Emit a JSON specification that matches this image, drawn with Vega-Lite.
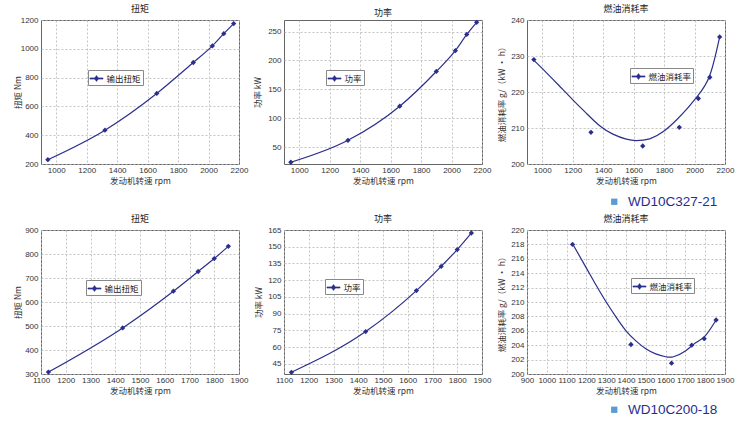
{
  "$schema": "https://vega.github.io/schema/vega-lite/v6.json",
  "padding": {"left": 12, "top": 4, "right": 5, "bottom": 5},
  "background": "white",
  "datasets": {
    "torque1": [
      {"rpm": 945, "value": 230, "series": "输出扭矩"},
      {"rpm": 1320, "value": 435, "series": "输出扭矩"},
      {"rpm": 1660, "value": 690, "series": "输出扭矩"},
      {"rpm": 1900, "value": 905, "series": "输出扭矩"},
      {"rpm": 2025, "value": 1020, "series": "输出扭矩"},
      {"rpm": 2100, "value": 1105, "series": "输出扭矩"},
      {"rpm": 2165, "value": 1175, "series": "输出扭矩"}
    ],
    "power1": [
      {"rpm": 945, "value": 24, "series": "功率"},
      {"rpm": 1320, "value": 62, "series": "功率"},
      {"rpm": 1660, "value": 121, "series": "功率"},
      {"rpm": 1900, "value": 181, "series": "功率"},
      {"rpm": 2025, "value": 217, "series": "功率"},
      {"rpm": 2100, "value": 245, "series": "功率"},
      {"rpm": 2165, "value": 266, "series": "功率"}
    ],
    "fuel1": [
      {"rpm": 945, "value": 229.0, "series": "燃油消耗率"},
      {"rpm": 1320, "value": 208.8, "series": "燃油消耗率"},
      {"rpm": 1660, "value": 205.0, "series": "燃油消耗率"},
      {"rpm": 1900, "value": 210.2, "series": "燃油消耗率"},
      {"rpm": 2025, "value": 218.2, "series": "燃油消耗率"},
      {"rpm": 2100, "value": 224.1, "series": "燃油消耗率"},
      {"rpm": 2165, "value": 235.3, "series": "燃油消耗率"}
    ],
    "fuel1fit": [
      {"rpm": 940, "value": 229.0},
      {"rpm": 1022, "value": 225.6},
      {"rpm": 1110, "value": 221.8},
      {"rpm": 1199, "value": 217.9},
      {"rpm": 1287, "value": 214.2},
      {"rpm": 1375, "value": 210.7},
      {"rpm": 1464, "value": 208.3},
      {"rpm": 1552, "value": 206.9},
      {"rpm": 1618, "value": 206.5},
      {"rpm": 1706, "value": 207.0},
      {"rpm": 1795, "value": 209.0},
      {"rpm": 1883, "value": 212.3},
      {"rpm": 1950, "value": 215.3},
      {"rpm": 2022, "value": 219.0},
      {"rpm": 2100, "value": 224.6},
      {"rpm": 2165, "value": 235.3}
    ],
    "model1": [{"model": "WD10C327-21"}],
    "torque2": [
      {"rpm": 1130, "value": 308, "series": "输出扭矩"},
      {"rpm": 1430, "value": 492, "series": "输出扭矩"},
      {"rpm": 1635, "value": 645, "series": "输出扭矩"},
      {"rpm": 1735, "value": 727, "series": "输出扭矩"},
      {"rpm": 1800, "value": 781, "series": "输出扭矩"},
      {"rpm": 1857, "value": 832, "series": "输出扭矩"}
    ],
    "power2": [
      {"rpm": 1130, "value": 37.5, "series": "功率"},
      {"rpm": 1430, "value": 74, "series": "功率"},
      {"rpm": 1635, "value": 110.7, "series": "功率"},
      {"rpm": 1735, "value": 132.4, "series": "功率"},
      {"rpm": 1800, "value": 147.5, "series": "功率"},
      {"rpm": 1857, "value": 162.3, "series": "功率"}
    ],
    "fuel2": [
      {"rpm": 1130, "value": 218.0, "series": "燃油消耗率"},
      {"rpm": 1425, "value": 204.1, "series": "燃油消耗率"},
      {"rpm": 1630, "value": 201.5, "series": "燃油消耗率"},
      {"rpm": 1732, "value": 204.0, "series": "燃油消耗率"},
      {"rpm": 1795, "value": 204.9, "series": "燃油消耗率"},
      {"rpm": 1855, "value": 207.5, "series": "燃油消耗率"}
    ],
    "fuel2fit": [
      {"rpm": 1130, "value": 218.1},
      {"rpm": 1200, "value": 214.7},
      {"rpm": 1250, "value": 212.3},
      {"rpm": 1300, "value": 210.0},
      {"rpm": 1350, "value": 207.9},
      {"rpm": 1400, "value": 206.0},
      {"rpm": 1450, "value": 204.6},
      {"rpm": 1500, "value": 203.5},
      {"rpm": 1550, "value": 202.8},
      {"rpm": 1600, "value": 202.4},
      {"rpm": 1640, "value": 202.4},
      {"rpm": 1700, "value": 203.2},
      {"rpm": 1750, "value": 204.3},
      {"rpm": 1800, "value": 205.3},
      {"rpm": 1855, "value": 207.5}
    ],
    "model2": [{"model": "WD10C200-18"}]
  },
  "columns": 3,
  "spacing": {"row": 66, "column": 45},
  "bounds": "flush",
  "resolve": {
    "scale": {"color": "independent", "fill": "independent"},
    "legend": {"color": "independent", "fill": "independent"}
  },
  "concat": [
    {
      "width": 198, "height": 144,
      "title": "扭矩",
      "encoding": {
        "x": {"field": "rpm", "type": "quantitative", "scale": {"domain": [900, 2200], "nice": false, "zero": false},
          "axis": {"title": "发动机转速 rpm", "values": [1000, 1200, 1400, 1600, 1800, 2000, 2200]}},
        "y": {"field": "value", "type": "quantitative", "scale": {"domain": [200, 1200], "nice": false, "zero": false},
          "axis": {"title": "扭矩 Nm", "titlePadding": 0.5, "values": [200, 400, 600, 800, 1000, 1200]}}
      },
      "layer": [
        {
          "data": {"name": "torque1"},
          "mark": {"type": "line", "interpolate": "monotone", "color": "#2b2f8c", "strokeWidth": 1.2}
        },
        {
          "data": {"name": "torque1"},
          "mark": {"type": "point", "shape": "diamond", "filled": true, "size": 28, "opacity": 1},
          "encoding": {
            "color": {"field": "series", "type": "nominal", "scale": {"range": ["#2b2f8c"]},
              "legend": {"title": null, "orient": "none", "legendX": 47, "legendY": 50}}
          }
        }
      ]
    },
    {
      "width": 198, "height": 144,
      "title": "功率",
      "encoding": {
        "x": {"field": "rpm", "type": "quantitative", "scale": {"domain": [900, 2200], "nice": false, "zero": false},
          "axis": {"title": "发动机转速 rpm", "values": [1000, 1200, 1400, 1600, 1800, 2000, 2200]}},
        "y": {"field": "value", "type": "quantitative", "scale": {"domain": [21, 270], "nice": false, "zero": false},
          "axis": {"title": "功率 kW", "titlePadding": 3.5, "values": [50, 100, 150, 200, 250]}}
      },
      "layer": [
        {
          "data": {"name": "power1"},
          "mark": {"type": "line", "interpolate": "monotone", "color": "#2b2f8c", "strokeWidth": 1.2}
        },
        {
          "data": {"name": "power1"},
          "mark": {"type": "point", "shape": "diamond", "filled": true, "size": 28, "opacity": 1},
          "encoding": {
            "color": {"field": "series", "type": "nominal", "scale": {"range": ["#2b2f8c"]},
              "legend": {"title": null, "orient": "none", "legendX": 42, "legendY": 50}}
          }
        }
      ]
    },
    {
      "width": 198, "height": 144,
      "title": "燃油消耗率",
      "layer": [
        {
          "encoding": {
            "x": {"field": "rpm", "type": "quantitative", "scale": {"domain": [900, 2200], "nice": false, "zero": false},
              "axis": {"title": "发动机转速 rpm", "values": [1000, 1200, 1400, 1600, 1800, 2000, 2200]}},
            "y": {"field": "value", "type": "quantitative", "scale": {"domain": [200, 240], "nice": false, "zero": false},
              "axis": {"title": "燃油消耗率 g/（kW · h）", "titlePadding": 3, "values": [200, 210, 220, 230, 240]}}
          },
          "layer": [
            {
              "data": {"name": "fuel1fit"},
              "mark": {"type": "line", "interpolate": "natural", "color": "#2b2f8c", "strokeWidth": 1.2}
            },
            {
              "data": {"name": "fuel1"},
              "mark": {"type": "point", "shape": "diamond", "filled": true, "size": 28, "opacity": 1},
              "encoding": {
                "color": {"field": "series", "type": "nominal", "scale": {"range": ["#2b2f8c"]},
                  "legend": {"title": null, "orient": "none", "legendX": 103, "legendY": 48}}
              }
            }
          ]
        },
        {
          "data": {"name": "model1"},
          "mark": {"type": "point", "shape": "square", "filled": true, "opacity": 0},
          "encoding": {
            "fill": {"field": "model", "type": "nominal", "scale": {"range": ["#5b9bd5"]},
              "legend": {"title": null, "orient": "none", "legendX": 80.5, "legendY": 175,
                "symbolType": "square", "symbolSize": 40, "symbolStrokeWidth": 0,
                "labelFontSize": 13.5, "labelColor": "#1f2f8f", "labelFont": "Liberation Sans", "labelOffset": 7,
                "padding": 0, "strokeColor": "transparent", "fillColor": "transparent"}}
          }
        }
      ]
    },
    {
      "width": 198, "height": 144,
      "title": "扭矩",
      "encoding": {
        "x": {"field": "rpm", "type": "quantitative", "scale": {"domain": [1100, 1900], "nice": false, "zero": false},
          "axis": {"title": "发动机转速 rpm", "values": [1100, 1200, 1300, 1400, 1500, 1600, 1700, 1800, 1900]}},
        "y": {"field": "value", "type": "quantitative", "scale": {"domain": [300, 900], "nice": false, "zero": false},
          "axis": {"title": "扭矩 Nm", "titlePadding": 1, "values": [300, 400, 500, 600, 700, 800, 900]}}
      },
      "layer": [
        {
          "data": {"name": "torque2"},
          "mark": {"type": "line", "interpolate": "monotone", "color": "#2b2f8c", "strokeWidth": 1.2}
        },
        {
          "data": {"name": "torque2"},
          "mark": {"type": "point", "shape": "diamond", "filled": true, "size": 28, "opacity": 1},
          "encoding": {
            "color": {"field": "series", "type": "nominal", "scale": {"range": ["#2b2f8c"]},
              "legend": {"title": null, "orient": "none", "legendX": 45, "legendY": 50}}
          }
        }
      ]
    },
    {
      "width": 198, "height": 144,
      "title": "功率",
      "encoding": {
        "x": {"field": "rpm", "type": "quantitative", "scale": {"domain": [1100, 1900], "nice": false, "zero": false},
          "axis": {"title": "发动机转速 rpm", "values": [1100, 1200, 1300, 1400, 1500, 1600, 1700, 1800, 1900]}},
        "y": {"field": "value", "type": "quantitative", "scale": {"domain": [36, 165], "nice": false, "zero": false},
          "axis": {"title": "功率 kW", "titlePadding": 3, "values": [45, 60, 75, 90, 105, 120, 135, 150, 165]}}
      },
      "layer": [
        {
          "data": {"name": "power2"},
          "mark": {"type": "line", "interpolate": "monotone", "color": "#2b2f8c", "strokeWidth": 1.2}
        },
        {
          "data": {"name": "power2"},
          "mark": {"type": "point", "shape": "diamond", "filled": true, "size": 28, "opacity": 1},
          "encoding": {
            "color": {"field": "series", "type": "nominal", "scale": {"range": ["#2b2f8c"]},
              "legend": {"title": null, "orient": "none", "legendX": 41, "legendY": 49}}
          }
        }
      ]
    },
    {
      "width": 198, "height": 144,
      "title": "燃油消耗率",
      "layer": [
        {
          "encoding": {
            "x": {"field": "rpm", "type": "quantitative", "scale": {"domain": [900, 1900], "nice": false, "zero": false},
              "axis": {"title": "发动机转速 rpm", "values": [900, 1000, 1100, 1200, 1300, 1400, 1500, 1600, 1700, 1800, 1900]}},
            "y": {"field": "value", "type": "quantitative", "scale": {"domain": [200, 220], "nice": false, "zero": false},
              "axis": {"title": "燃油消耗率 g/（kW · h）", "titlePadding": 3, "values": [200, 202, 204, 206, 208, 210, 212, 214, 216, 218, 220]}}
          },
          "layer": [
            {
              "data": {"name": "fuel2fit"},
              "mark": {"type": "line", "interpolate": "natural", "color": "#2b2f8c", "strokeWidth": 1.2}
            },
            {
              "data": {"name": "fuel2"},
              "mark": {"type": "point", "shape": "diamond", "filled": true, "size": 28, "opacity": 1},
              "encoding": {
                "color": {"field": "series", "type": "nominal", "scale": {"range": ["#2b2f8c"]},
                  "legend": {"title": null, "orient": "none", "legendX": 104, "legendY": 48}}
              }
            }
          ]
        },
        {
          "data": {"name": "model2"},
          "mark": {"type": "point", "shape": "square", "filled": true, "opacity": 0},
          "encoding": {
            "fill": {"field": "model", "type": "nominal", "scale": {"range": ["#5b9bd5"]},
              "legend": {"title": null, "orient": "none", "legendX": 80.5, "legendY": 173,
                "symbolType": "square", "symbolSize": 40, "symbolStrokeWidth": 0,
                "labelFontSize": 13.5, "labelColor": "#1f2f8f", "labelFont": "Liberation Sans", "labelOffset": 7,
                "padding": 0, "strokeColor": "transparent", "fillColor": "transparent"}}
          }
        }
      ]
    }
  ],
  "config": {
    "font": "Liberation Sans, Noto Sans CJK SC",
    "view": {"stroke": "#666666", "strokeWidth": 1},
    "axis": {
      "grid": true, "gridDash": [2, 2], "gridColor": "#b5b5b5", "gridWidth": 0.8,
      "domain": false, "ticks": false,
      "labelFont": "Liberation Sans", "labelFontSize": 8, "labelColor": "#333333", "labelPadding": 3,
      "labelFlush": false, "labelOverlap": false, "format": "d",
      "titleFont": "Noto Sans CJK SC, Liberation Sans", "titleFontSize": 8.5, "titleFontWeight": "normal", "titleColor": "#333333"
    },
    "axisY": {"minExtent": 18, "maxExtent": 18},
    "axisX": {"labelPadding": 2, "titlePadding": 2},
    "title": {"font": "Noto Sans CJK SC", "fontSize": 9, "fontWeight": "normal", "color": "#222222", "offset": 2},
    "legend": {
      "symbolType": "M-1,-0.09L1,-0.09L1,0.09L-1,0.09ZM0,-0.45L0.32,0L0,0.45L-0.32,0Z",
      "symbolSize": 170, "symbolStrokeWidth": 0.6, "symbolStrokeColor": "#2b2f8c",
      "labelFont": "Noto Sans CJK SC", "labelFontSize": 8.5, "labelColor": "#222222", "labelOffset": 3,
      "padding": 1.5, "strokeColor": "#888888", "fillColor": "white", "titlePadding": 0
    }
  }
}
